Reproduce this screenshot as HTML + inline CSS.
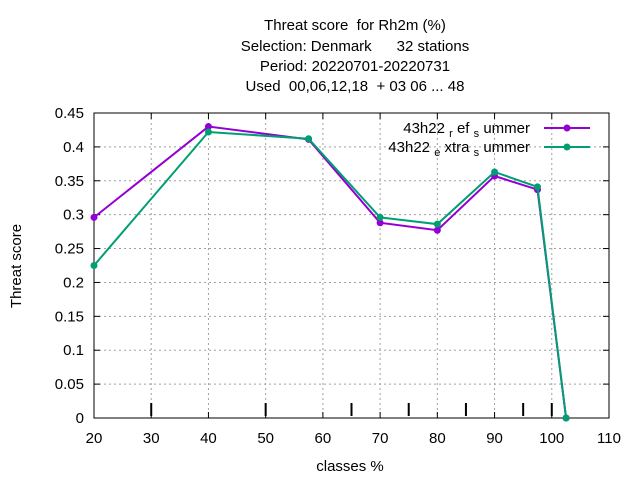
<!DOCTYPE html>
<html><head><meta charset="utf-8"><style>
body{margin:0;background:#fff}
svg{display:block;font-family:"Liberation Sans",sans-serif;font-size:15px}
text{white-space:pre}
</style></head><body>
<svg id="chart" width="640" height="480" viewBox="0 0 640 480">
<g text-anchor="middle" font-size="15">
<text x="355" y="30">Threat score  for Rh2m (%)</text>
<text x="355" y="51">Selection: Denmark      32 stations</text>
<text x="355" y="71">Period: 20220701-20220731</text>
<text x="355" y="91">Used  00,06,12,18  + 03 06 ... 48</text>
</g>
<g id="grid"></g>
<g id="axes"></g>
<text transform="translate(21,266) rotate(-90)" text-anchor="middle">Threat score</text>
<text x="350" y="471" text-anchor="middle">classes %</text>
<g id="series"></g>
<g>
<g>
<text x="530" y="133" text-anchor="end">43h22 <tspan font-size="11" dy="4">r</tspan><tspan dy="-4"> ef </tspan><tspan font-size="11" dy="4">s</tspan><tspan dy="-4"> ummer</tspan></text>
<line x1="544" y1="128" x2="590" y2="128" stroke="#9400d3" stroke-width="2"/>
<circle cx="567" cy="128" r="3.5" fill="#9400d3"/></g>
<g>
<text x="530" y="152" text-anchor="end">43h22 <tspan font-size="11" dy="4">e</tspan><tspan dy="-4"> xtra </tspan><tspan font-size="11" dy="4">s</tspan><tspan dy="-4"> ummer</tspan></text>
<line x1="544" y1="147" x2="590" y2="147" stroke="#009e73" stroke-width="2"/>
<circle cx="567" cy="147" r="3.5" fill="#009e73"/></g>
</g>
</svg>
<script>
const classes=[20,40,57.5,70,80,90,97.5,102.5];
const refValues=[0.296,0.430,0.411,0.288,0.277,0.357,0.337,0];
const extraValues=[0.225,0.422,0.412,0.296,0.286,0.363,0.341,0];
const xTicks=[20,30,40,50,60,70,80,90,100,110];
const yTicks=[0,0.05,0.1,0.15,0.2,0.25,0.3,0.35,0.4,0.45];
const markers=[30,50,65,75,85,95,100];
const X0=94,X1=609,Y0=418,Y1=113;
const sx=v=>X0+(v-20)/90*(X1-X0);
const sy=v=>Y0-v/0.45*(Y0-Y1);
const NS='http://www.w3.org/2000/svg';
function mk(t,a,p){const e=document.createElementNS(NS,t);for(const k in a)e.setAttribute(k,a[k]);p.appendChild(e);return e;}
const grid=document.getElementById('grid'),axes=document.getElementById('axes'),ser=document.getElementById('series');
xTicks.forEach(v=>{const x=sx(v);
 if(v>20&&v<110){const g=mk('line',{x1:x,y1:Y1,x2:x,y2:Y0,stroke:'#a0a0a0','stroke-dasharray':'2,3','stroke-width':1},grid);}
 mk('line',{x1:x,y1:Y0,x2:x,y2:Y0-6,stroke:'#000'},axes);mk('line',{x1:x,y1:Y1,x2:x,y2:Y1+6,stroke:'#000'},axes);
 const t=mk('text',{x:x,y:Y0+25,'text-anchor':'middle'},axes);t.textContent=v;
 });
yTicks.forEach(v=>{const y=sy(v);
 if(v>0&&v<0.45){const g=mk('line',{x1:X0,y1:y,x2:X1,y2:y,stroke:'#a0a0a0','stroke-dasharray':'2,3','stroke-width':1},grid);}
 mk('line',{x1:X0,y1:y,x2:X0+6,y2:y,stroke:'#000'},axes);mk('line',{x1:X1,y1:y,x2:X1-6,y2:y,stroke:'#000'},axes);
 const t=mk('text',{x:X0-10,y:y+5,'text-anchor':'end'},axes);t.textContent=String(v);
 });
const fr=mk('rect',{x:X0,y:Y1,width:X1-X0,height:Y0-Y1,fill:'none',stroke:'#000'},axes);

markers.forEach(v=>{const m=mk('line',{x1:sx(v),y1:Y0-15,x2:sx(v),y2:Y0-2,stroke:'#000','stroke-width':2},axes);
 });
function draw(vals,col,name){
 const p=mk('polyline',{points:classes.map((c,i)=>sx(c)+','+sy(vals[i])).join(' '),fill:'none',stroke:col,'stroke-width':2},ser);
 
 classes.forEach((c,i)=>{const d=mk('circle',{cx:sx(c),cy:sy(vals[i]),r:3.5,fill:col},ser);
  });
}
draw(refValues,'#9400d3','ref-summer');
draw(extraValues,'#009e73','extra-summer');
</script>
</body></html>
